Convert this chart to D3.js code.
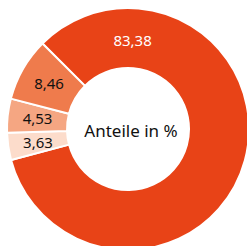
<!DOCTYPE html>
<html>
<head>
<meta charset="utf-8">
<script src="https://cdn.jsdelivr.net/npm/d3@7"></script>
<style>
  body { margin: 0; background: #fff; }
  text { font-family: "Noto Sans", sans-serif; }
</style>
</head>
<body>
<div id="myChart"></div>
<script>
// Anteile in %
var labels = ['83,38', '3,63', '4,53', '8,46'];
var values = [83.38, 3.63, 4.53, 8.46];
var colors = ['#e84317', '#fcdccb', '#f5a682', '#ef7b4c'];
var textColors = ['#fff', '#111', '#111', '#111'];

var width = 247, height = 246;
var cx = 128, cy = 129;
var outer = 121, inner = 61;

var data = values.map(function(v, i) { return { label: labels[i], value: v, i: i }; });

var pie = d3.pie()
  .sort(null)
  .startAngle(-Math.PI / 4)
  .endAngle(2 * Math.PI - Math.PI / 4)
  .value(function(d) { return d.value; });

var slices = pie(data);

var arc = d3.arc()
  .innerRadius(inner)
  .outerRadius(outer);

var svg = d3.select("#myChart").append("svg")
  .attr("width", width)
  .attr("height", height);

var g = svg.append("g").attr("transform", "translate(" + cx + "," + cy + ")");

g.selectAll("path")
  .data(slices)
  .enter()
  .append("path")
  .attr("d", arc)
  .attr("fill", function(s) { return colors[s.data.i]; })
  .attr("stroke", "#fff")
  .attr("stroke-width", 2);

// big slice label sits at the top of the ring, the others at their centroid
function labelPos(s) {
  if (s.data.i === 0) return arc.centroid({ startAngle: -0.02, endAngle: 0.12 });
  return arc.centroid(s);
}

g.selectAll("text.val")
  .data(slices)
  .enter()
  .append("text")
  .attr("class", "val")
  .attr("transform", function(s) { return "translate(" + labelPos(s) + ")"; })
  .attr("text-anchor", "middle")
  .attr("dy", function(s) { return s.data.i === 0 ? "0.55em" : "0.36em"; })
  .attr("font-size", 15)
  .attr("fill", function(s) { return textColors[s.data.i]; })
  .text(function(s) { return s.data.label; });

g.append("text")
  .attr("text-anchor", "middle")
  .attr("dy", "0.36em")
  .attr("x", 3)
  .attr("y", 2)
  .attr("font-size", 17)
  .attr("fill", "#111")
  .text("Anteile in %");
</script>
</body>
</html>
